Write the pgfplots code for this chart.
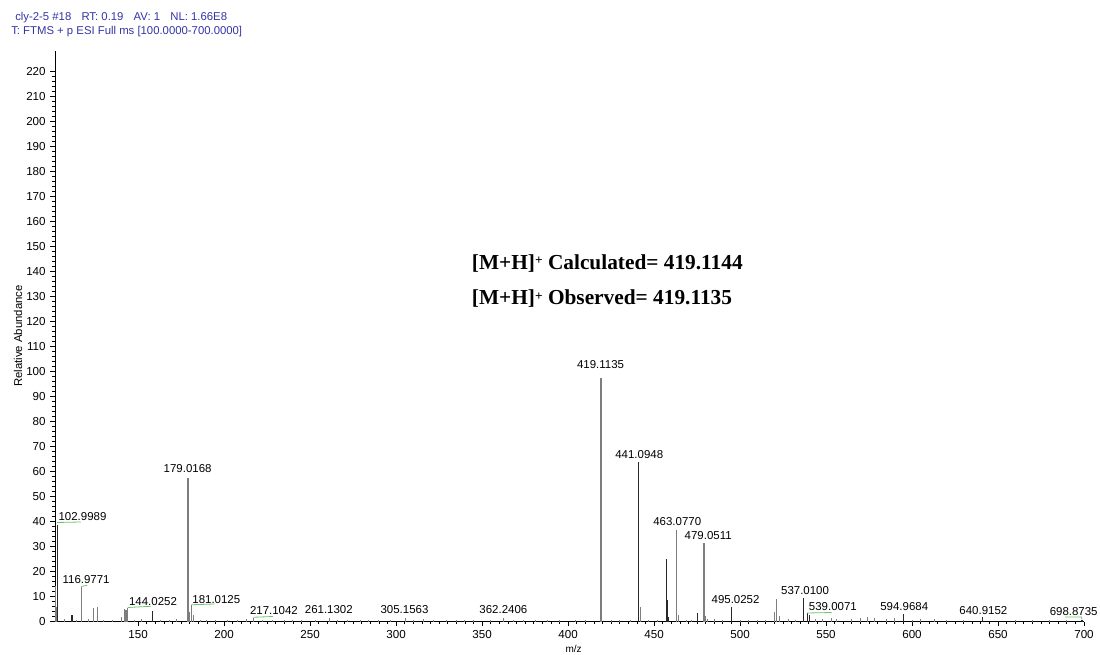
\documentclass[border=0pt]{standalone}
\usepackage{fontspec}
\setmainfont{Liberation Sans}
\newfontfamily\timesfont{Liberation Serif}
\usepackage{pgfplots}
\pgfplotsset{compat=1.18}

\definecolor{hdrblue}{RGB}{52,52,165}
\definecolor{peakgray}{RGB}{125,125,125}
\definecolor{peakdark}{RGB}{40,40,40}
\definecolor{connector}{RGB}{110,195,110}

\tikzset{peaklabel/.style={font=\fontsize{8.6}{10}\selectfont, text=black, inner sep=0pt}}
\newcommand{\protonated}{[M+H]{\fontsize{10}{10}\selectfont\raisebox{0.8ex}{+}}}

\begin{document}
\begin{tikzpicture}
\begin{axis}[
  at={(0,0)}, anchor=south west,
  scale only axis, width=771.75pt, height=428.1pt,
  xmin=101.7, xmax=700, ymin=0, ymax=228.3,
  axis lines=left, axis line style={-, line width=0.6pt},
  clip=false,
  xtick={150,200,...,700}, ytick={0,10,...,220},
  minor x tick num=9, minor y tick num=4,
  tick align=outside, major tick length=3.5pt, minor tick length=2pt,
  tick style={black, line width=0.5pt},
  /pgf/number format/assume math mode=true,
  ticklabel style={font=\fontsize{8.7}{10}\selectfont},
  xlabel={m/z},
  xlabel style={at={(axis description cs:0.504,-0.048)}, anchor=center, font=\fontsize{7.5}{9}\selectfont},
  ylabel={Relative Abundance},
  ylabel style={at={(axis description cs:-0.036,0.5)}, anchor=center, font=\fontsize{8.5}{10}\selectfont},
]
% main ions (grey sticks)
\addplot[ycomb, peakgray, line width=0.9pt, mark=none] coordinates {
  (101.9,14.0) (102.3,6.0) (116.98,13.9) (124.1,5.4) (126.4,5.9)
  (140.5,1.8) (142.0,5.0) (143.0,4.8) (144.03,5.4)
  (179.02,57.5) (179.6,4.0) (181.01,6.6) (182.0,2.5)
  (419.11,97.5) (442.1,5.9) (463.08,36.6) (464.1,2.6)
  (479.05,31.5) (480.0,2.2) (481.0,1.2)
  (520.0,3.9) (521.0,9.0) (522.8,2.4)
};
% main ions (dark sticks)
\addplot[ycomb, peakdark, line width=0.9pt, mark=none] coordinates {
  (102.99,38.6) (111.6,2.6) (158.5,4.3) (441.09,63.7)
  (457.4,24.9) (457.6,8.6) (458.5,2.0) (475.3,3.3)
  (495.03,5.9) (537.01,9.5) (539.01,3.4) (540.2,2.6)
  (594.97,3.0) (640.92,1.8) (698.87,0.8)
};
% minor ions and baseline noise
\addplot[ycomb, peakgray, line width=0.6pt, mark=none] coordinates {
  (107,1.0) (114,0.6) (121,1.0) (130,0.6) (135,0.8) (148,0.7) (152,1.2)
  (163,0.8) (168,0.6) (172,1.0) (186,0.8) (190,0.6) (195,0.7) (202,0.8)
  (208,0.6) (213,0.9) (217.10,1.5) (222,0.7) (228,0.6) (235,0.8) (240,0.6)
  (245,0.7) (253,0.6) (261.13,1.6) (266,0.7) (272,0.6) (279,0.8) (284,0.5)
  (290,0.8) (297,0.6) (305.16,1.4) (310,0.7) (316,0.9) (322,0.6) (329,0.7)
  (335,0.8) (340,0.6) (345,0.7) (355,0.6) (362.24,1.4) (368,0.7) (374,0.5)
  (381,0.6) (388,0.7) (395,0.6) (404,0.5) (410,0.6) (425,0.6) (430,0.5)
  (436,0.6) (447,0.5) (452,0.7) (469,0.8) (472,0.7) (485,0.9) (490,0.6)
  (500,0.7) (505,0.6) (510,0.8) (515,0.7) (528,0.9) (532,0.8) (544,1.2)
  (548,1.0) (553,1.4) (556,0.9) (565,1.0) (570,1.5) (574,1.7) (578,1.6)
  (585,1.0) (590,1.5) (600,0.8) (605,0.9) (613,1.2) (620,0.6) (630,0.7)
  (660,0.8) (670,0.6) (680,0.5) (690,0.7)
};

% label connectors
\draw[connector, line width=0.6pt] (axis cs:102.9,39.6) -- (axis cs:116.7,39.8);
\draw[connector, line width=0.6pt] (axis cs:117.0,14.0) -- (axis cs:120.5,14.5);
\draw[connector, line width=0.6pt] (axis cs:144.0,5.6) -- (axis cs:157.5,6.1);
\draw[connector, line width=0.6pt] (axis cs:181.0,6.7) -- (axis cs:194.5,7.0);
\draw[connector, line width=0.6pt] (axis cs:217.1,1.7) -- (axis cs:228.5,2.0);
\draw[connector, line width=0.6pt] (axis cs:539.0,3.4) -- (axis cs:553.3,3.6);
\draw[connector, line width=0.6pt] (axis cs:689.0,1.8) -- (axis cs:698.5,1.8) -- (axis cs:698.87,0.8);

% peak labels
\node[peaklabel] at (axis cs:117.7,41.8) {102.9989};
\node[peaklabel] at (axis cs:119.8,16.6) {116.9771};
\node[peaklabel] at (axis cs:158.7,7.9) {144.0252};
\node[peaklabel] at (axis cs:178.8,61.0) {179.0168};
\node[peaklabel] at (axis cs:195.5,8.6) {181.0125};
\node[peaklabel] at (axis cs:229.0,4.3) {217.1042};
\node[peaklabel] at (axis cs:260.9,4.6) {261.1302};
\node[peaklabel] at (axis cs:304.9,4.9) {305.1563};
\node[peaklabel] at (axis cs:362.4,4.9) {362.2406};
\node[peaklabel] at (axis cs:418.9,102.6) {419.1135};
\node[peaklabel] at (axis cs:441.4,66.6) {441.0948};
\node[peaklabel] at (axis cs:463.5,39.9) {463.0770};
\node[peaklabel] at (axis cs:481.5,34.3) {479.0511};
\node[peaklabel] at (axis cs:497.4,8.9) {495.0252};
\node[peaklabel] at (axis cs:537.8,12.3) {537.0100};
\node[peaklabel] at (axis cs:554.0,5.9) {539.0071};
\node[peaklabel] at (axis cs:595.5,6.0) {594.9684};
\node[peaklabel] at (axis cs:641.5,4.3) {640.9152};
\node[peaklabel] at (axis cs:694.0,3.9) {698.8735};

% mass annotation
\node[anchor=west, inner sep=0pt, font=\timesfont\bfseries\fontsize{16}{18}\selectfont]
  at (axis cs:344,143.2) {\protonated\ Calculated= 419.1144};
\node[anchor=west, inner sep=0pt, font=\timesfont\bfseries\fontsize{16}{18}\selectfont]
  at (axis cs:344,129.0) {\protonated\ Observed= 419.1135};
\end{axis}

% scan header
\node[anchor=base west, inner sep=0pt, text=hdrblue, font=\fontsize{8.5}{10}\selectfont]
  at (-30pt,450.6pt) {cly-2-5 \#18\hspace{0.9em}RT: 0.19\hspace{0.9em}AV: 1\hspace{0.9em}NL: 1.66E8};
\node[anchor=base west, inner sep=0pt, text=hdrblue, font=\fontsize{8.5}{10}\selectfont]
  at (-33pt,440.1pt) {T: FTMS + p ESI Full ms [100.0000-700.0000]};

\pgfresetboundingbox
\path[use as bounding box] (-41.25pt,-24.375pt) rectangle (783.75pt,466.125pt);
\end{tikzpicture}
\end{document}
